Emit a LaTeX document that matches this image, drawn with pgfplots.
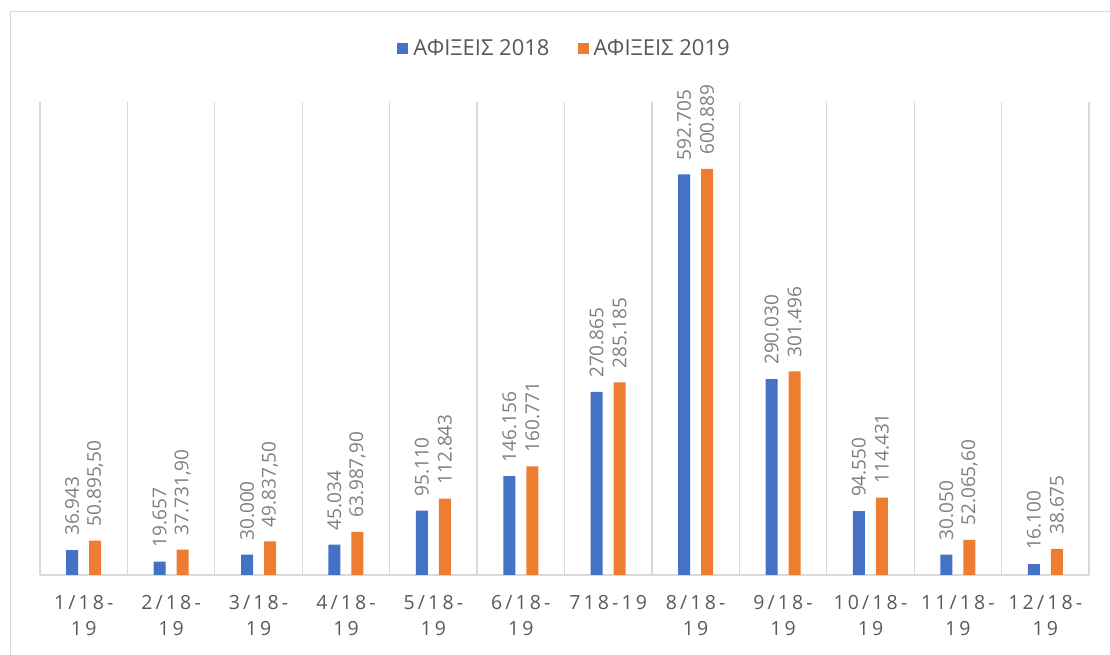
\documentclass[border=0pt]{standalone}
\usepackage{fontspec}
\setmainfont{Open Sans}
\usepackage{pgfplots}
\pgfplotsset{compat=1.18}
\definecolor{bblue}{HTML}{4472C4}
\definecolor{borange}{HTML}{ED7D31}
\definecolor{gridgray}{HTML}{D9D9D9}
\definecolor{txtgray}{HTML}{595959}
\definecolor{lblgray}{HTML}{7F7F7F}
\begin{document}
\begin{tikzpicture}
\useasboundingbox (0,0) rectangle (1110pt,655pt);
\draw[gridgray, line width=1pt] (10.5pt,-20pt) -- (10.5pt,643.5pt) -- (1130pt,643.5pt);
\begin{axis}[
  at={(40pt,80pt)}, anchor=south west,
  scale only axis, width=1049pt, height=473pt,
  ymin=0, ymax=700000,
  xmin=-0.5, xmax=11.5,
  axis x line=bottom, axis y line=none,
  x axis line style={draw=gridgray, line width=1.8pt, -},
  xtick={0,...,11},
  xticklabels={{1/18-\\19},{2/18-\\19},{3/18-\\19},{4/18-\\19},{5/18-\\19},{6/18-\\19},{718-19},{8/18-\\19},{9/18-\\19},{10/18-\\19},{11/18-\\19},{12/18-\\19}},
  xticklabel style={align=center, anchor=north, yshift=-17pt, text=txtgray,
    font=\fontsize{19.5}{26}\selectfont\addfontfeatures{LetterSpace=16}},
  major tick length=0pt, minor tick length=0pt,
  minor xtick={-0.5,0.5,...,11.5},
  xminorgrids=true,
  minor grid style={draw=gridgray, line width=1.3pt},
  clip=false,
  ybar, bar width=12pt,
  point meta=explicit symbolic,
  nodes near coords,
  every node near coord/.append style={rotate=90, anchor=west, xshift=12pt,
    text=lblgray, font=\fontsize{19}{22}\selectfont, inner sep=2pt},
  legend columns=2,
  legend style={at={(axis description cs:0.5,1.113)}, anchor=center, draw=none,
    font=\fontsize{22}{24}\selectfont, text=txtgray,
    /tikz/every odd column/.append style={column sep=3pt},
    /tikz/every even column/.append style={column sep=26pt}},
]
\addplot[fill=bblue, draw=none, bar shift=-11.5pt,
  legend image code/.code={\fill[bblue] (0pt,-5.5pt) rectangle (11pt,5.5pt);}]
  coordinates {
  (0,36943) [36.943]
  (1,19657) [19.657]
  (2,30000) [30.000]
  (3,45034) [45.034]
  (4,95110) [95.110]
  (5,146156) [146.156]
  (6,270865) [270.865]
  (7,592705) [592.705]
  (8,290030) [290.030]
  (9,94550) [94.550]
  (10,30050) [30.050]
  (11,16100) [16.100]
  };
\addplot[fill=borange, draw=none, bar shift=11.5pt,
  legend image code/.code={\fill[borange] (0pt,-5.5pt) rectangle (11pt,5.5pt);}]
  coordinates {
  (0,50895.50) [{50.895,50}]
  (1,37731.90) [{37.731,90}]
  (2,49837.50) [{49.837,50}]
  (3,63987.90) [{63.987,90}]
  (4,112843) [112.843]
  (5,160771) [160.771]
  (6,285185) [285.185]
  (7,600889) [600.889]
  (8,301496) [301.496]
  (9,114431) [114.431]
  (10,52065.60) [{52.065,60}]
  (11,38675) [38.675]
  };
\legend{ΑΦΙΞΕΙΣ 2018, ΑΦΙΞΕΙΣ 2019}
\end{axis}
\end{tikzpicture}
\end{document}
